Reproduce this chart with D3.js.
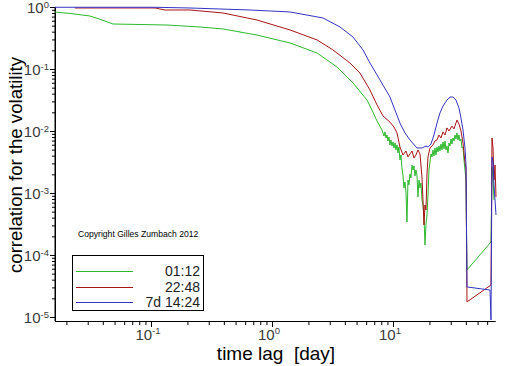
<!DOCTYPE html>
<html>
<head>
<meta charset="utf-8">
<script src="https://cdn.jsdelivr.net/npm/d3@7"></script>
<style>
  html, body { margin: 0; padding: 0; background: #fff; }
  svg { display: block; }
  text { font-family: "Liberation Sans", Arial, sans-serif; }
</style>
</head>
<body>
<div id="chart"></div>
<script>
// ---------- data (time lag in days, correlation) ----------
const seriesNames = ["01:12", "22:48", "7d 14:24"];
const seriesColors = ["#2db82d", "#a81414", "#3434c4"];

const greenT = [0.0161, 0.0214, 0.0313, 0.0394, 0.0485, 0.0811, 0.1356, 0.254, 0.394, 0.751, 1.41, 2.36, 3.44, 4.67, 6.10, 6.70, 7.38, 8.11,
  8.43, 8.59, 8.75, 8.92, 9.09, 9.27, 9.44, 9.62, 9.81, 10.00, 10.19, 10.39, 10.58, 10.79, 10.99, 11.20,
  11.42, 11.64, 11.86, 12.09, 12.32, 12.56, 12.80, 13.05, 13.30, 13.55, 13.81, 14.08, 14.35, 14.63, 14.91, 15.19,
  15.48, 15.78, 16.08, 16.39, 16.71, 17.03, 17.36, 17.69, 18.03, 18.38, 18.73, 19.09, 19.46, 19.83, 20.21, 20.60,
  21.00, 21.40, 21.81, 22.23, 22.66, 23.10, 23.54, 23.99, 24.45, 24.92, 25.40, 25.89, 26.39, 26.90, 27.41, 27.94,
  28.47, 29.02, 29.58, 30.15, 30.72, 31.31, 31.92, 32.53, 33.15, 33.79, 34.44, 35.10, 35.78, 36.46, 37.17, 37.88,
  38.61, 39.35, 40.11, 40.88, 64.55, 65.8, 67.07, 68.36];
const greenC = [0.831, 0.786, 0.716, 0.617, 0.532, 0.522, 0.512, 0.476, 0.442, 0.353, 0.263, 0.181, 0.108, 0.0595, 0.0316, 0.0218, 0.01445, 0.0104,
  8.30e-3, 9.66e-3, 7.71e-3, 8.61e-3, 6.90e-3, 8.00e-3, 5.94e-3, 7.16e-3, 5.73e-3, 6.65e-3, 5.32e-3, 6.40e-3, 4.94e-3, 5.94e-3, 4.42e-3, 5.52e-3,
  3.40e-3, 4.10e-3, 2.53e-3, 1.95e-3, 1.21e-3, 1.51e-3, 1.04e-3, 3.40e-4, 1.62e-3, 1.35e-3, 2.03e-3, 1.75e-3, 2.83e-3, 2.35e-3, 2.73e-3, 1.88e-3,
  2.35e-3, 1.95e-3, 8.63e-4, 1.62e-3, 1.21e-3, 1.45e-3, 7.71e-4, 6.40e-4, 4.42e-4, 1.45e-4, 3.05e-4, 4.42e-4, 9.29e-4, 2.35e-3, 3.16e-3, 4.26e-3,
  3.81e-3, 4.94e-3, 3.95e-3, 5.32e-3, 4.10e-3, 5.52e-3, 4.58e-3, 5.73e-3, 4.76e-3, 6.17e-3, 4.94e-3, 6.65e-3, 5.12e-3, 6.90e-3, 4.94e-3, 5.73e-3,
  4.42e-3, 6.40e-3, 5.73e-3, 7.43e-3, 6.17e-3, 7.71e-3, 6.90e-3, 8.61e-3, 7.43e-3, 9.31e-3, 7.16e-3, 8.61e-3, 6.90e-3, 7.43e-3, 5.32e-3, 5.52e-3,
  3.40e-3, 2.35e-3, 1.62e-3, 5.73e-5, 1.62e-4, 2.63e-3, 1.81e-3, 7.71e-4];

const redT = [0.0235, 0.108, 0.1305, 0.210, 0.394, 0.751, 1.41, 2.36, 3.19, 4.41, 5.33, 6.45, 7.38, 8.27, 9.44, 10.19, 10.79,
  11.42, 12.09, 12.80, 13.30, 13.81, 14.35, 14.91, 15.48, 16.08, 16.71, 17.36, 17.69, 18.03, 18.38, 18.73, 19.09, 19.46,
  20.21, 21.40, 22.23, 23.10, 23.99, 24.92, 25.89, 26.90, 27.94, 29.02, 30.72, 31.92, 33.79, 35.10, 36.46, 37.88, 39.35, 40.11,
  40.88, 64.55, 65.8, 67.07, 68.36, 69.66, 71.0];
const redC = [0.964, 0.964, 0.895, 0.895, 0.800, 0.617, 0.426, 0.294, 0.203, 0.125, 0.0862, 0.0459, 0.0263, 0.0175, 0.0139, 0.0116, 9.31e-3,
  5.52e-3, 4.10e-3, 4.76e-3, 3.81e-3, 4.26e-3, 4.76e-3, 3.67e-3, 4.10e-3, 4.94e-3, 4.26e-3, 1.81e-3, 7.71e-4, 3.05e-4, 6.40e-4, 5.32e-4, 1.95e-3, 3.81e-3,
  5.32e-3, 5.94e-3, 6.90e-3, 7.16e-3, 8.61e-3, 7.71e-3, 9.66e-3, 8.61e-3, 0.0112, 0.01002, 0.0120, 0.0108, 0.0150, 0.0129, 0.01002, 6.40e-3, 3.05e-3, 2.53e-3,
  1.75e-5, 3.28e-5, 7.71e-3, 5.32e-3, 1.62e-3, 2.83e-3, 8.63e-4];

const blueT = [0.0161, 0.108, 0.210, 0.658, 1.41, 2.64, 3.65, 4.67, 5.65, 6.45, 7.81, 9.44, 11.42, 12.56, 13.81, 15.78, 17.36, 18.73, 19.46,
  20.60, 21.81, 23.10, 24.45, 25.89, 27.94, 29.58, 31.31, 33.15, 35.10, 36.46, 37.88, 39.35, 40.11,
  40.88, 63.35, 64.55, 65.8, 67.07, 68.36, 69.66, 71.0];
const blueC = [0.99, 0.99, 0.964, 0.895, 0.831, 0.665, 0.476, 0.328, 0.203, 0.125, 0.0665, 0.0353, 0.0134, 9.31e-3, 7.16e-3, 5.32e-3, 5.32e-3, 5.73e-3, 5.52e-3,
  6.17e-3, 8.61e-3, 0.0134, 0.0195, 0.0253, 0.0316, 0.0353, 0.0353, 0.0316, 0.0235, 0.0162, 0.0104, 5.32e-3, 2.83e-3,
  3.05e-5, 2.72e-5, 8.95e-6, 3.81e-3, 3.16e-3, 1.35e-3, 7.71e-4, 4.42e-4];

const xMajorTicks = [0.1, 1, 10];
const xTickLabels = [["10", "-1"], ["10", "0"], ["10", "1"]];
const yMajorTicks = [1, 0.1, 0.01, 0.001, 0.0001, 0.00001];
const yTickLabels = [["10", "0"], ["10", "-1"], ["10", "-2"], ["10", "-3"], ["10", "-4"], ["10", "-5"]];
const xTitle = "time lag  [day]";
const yTitle = "correlation for the volatility";
const copyright = "Copyright Gilles Zumbach 2012";

// ---------- layout ----------
const W = 512, H = 366;
const svg = d3.select("#chart").append("svg").attr("width", W).attr("height", H);

const x = d3.scaleLog().domain([0.0161, 69.66]).range([55, 495]);
const y = d3.scaleLog().domain([Math.pow(10, -5.065), 1]).range([321, 7]);

// minor ticks
const xMinor = [];
[0.01, 0.1, 1, 10].forEach(d => { for (let k = 2; k <= 9; k++) { const v = d * k; if (v >= x.domain()[0] && v <= x.domain()[1]) xMinor.push(v); } });
const yMinor = [];
[1e-5, 1e-4, 1e-3, 1e-2, 1e-1].forEach(d => { for (let k = 2; k <= 9; k++) yMinor.push(d * k); });

// x axis
const gx = svg.append("g").attr("transform", "translate(0,321)");
gx.call(d3.axisBottom(x).tickValues(xMinor).tickSize(4).tickFormat("").tickSizeOuter(0));
gx.append("g").call(d3.axisBottom(x).tickValues(xMajorTicks).tickSize(6).tickFormat("").tickSizeOuter(0));
gx.selectAll(".domain").attr("stroke", "#000");
gx.selectAll("line").attr("stroke", "#000");

// y axis
const gy = svg.append("g").attr("transform", "translate(55,0)");
gy.call(d3.axisLeft(y).tickValues(yMinor).tickSize(3).tickFormat("").tickSizeOuter(0));
gy.append("g").call(d3.axisLeft(y).tickValues(yMajorTicks).tickSize(5).tickFormat("").tickSizeOuter(0));
gy.selectAll(".domain").attr("stroke", "#000");
gy.selectAll("line").attr("stroke", "#000");
svg.append("line").attr("x1", 55).attr("x2", 55).attr("y1", y(1)).attr("y2", 321).attr("stroke", "#000");

// tick labels
xMajorTicks.forEach((v, i) => {
  const t = svg.append("text").attr("x", x(v) - 3).attr("y", 340).attr("text-anchor", "middle")
    .attr("fill", "#3a3a3a").style("font-size", "15px");
  t.append("tspan").text(xTickLabels[i][0]);
  t.append("tspan").attr("dy", -6).style("font-size", "9.5px").text(xTickLabels[i][1]);
});
yMajorTicks.forEach((v, i) => {
  const t = svg.append("text").attr("x", 49).attr("y", y(v) + 6).attr("text-anchor", "end")
    .attr("fill", "#3a3a3a").style("font-size", "15px");
  t.append("tspan").text(yTickLabels[i][0]);
  t.append("tspan").attr("dy", -5).style("font-size", "9.5px").text(yTickLabels[i][1]);
});

// titles
svg.append("text").attr("x", 276).attr("y", 360).attr("text-anchor", "middle")
  .style("font-size", "19px").style("white-space", "pre").attr("fill", "#000").text(xTitle);
svg.append("text").attr("transform", "translate(22,165) rotate(-90)").attr("text-anchor", "middle")
  .style("font-size", "18.6px").attr("fill", "#000").text(yTitle);

svg.append("text").attr("x", 78).attr("y", 237).style("font-size", "8.6px").attr("fill", "#000").text(copyright);

// lines
const series = [[greenT, greenC], [redT, redC], [blueT, blueC]];
const line = d3.line().x(d => x(d[0])).y(d => y(d[1]));
series.forEach((s, i) => {
  const pts = s[0].map((t, j) => [t, s[1][j]]);
  svg.append("path").datum(pts).attr("d", line).attr("fill", "none")
    .attr("stroke", seriesColors[i]).attr("stroke-width", 1);
});

// legend
const lg = svg.append("g");
lg.append("rect").attr("x", 72.5).attr("y", 255.5).attr("width", 131).attr("height", 55)
  .attr("fill", "#fff").attr("stroke", "#000").attr("stroke-width", 1);
const legY = [271, 287, 302];
seriesNames.forEach((n, i) => {
  lg.append("line").attr("x1", 76).attr("x2", 133).attr("y1", legY[i] + 0.5).attr("y2", legY[i] + 0.5)
    .attr("stroke", seriesColors[i]).attr("stroke-width", 1);
  lg.append("text").attr("x", 200).attr("y", legY[i] + 5).attr("text-anchor", "end")
    .style("font-size", "14px").attr("fill", "#222").text(n);
});
</script>
</body>
</html>
